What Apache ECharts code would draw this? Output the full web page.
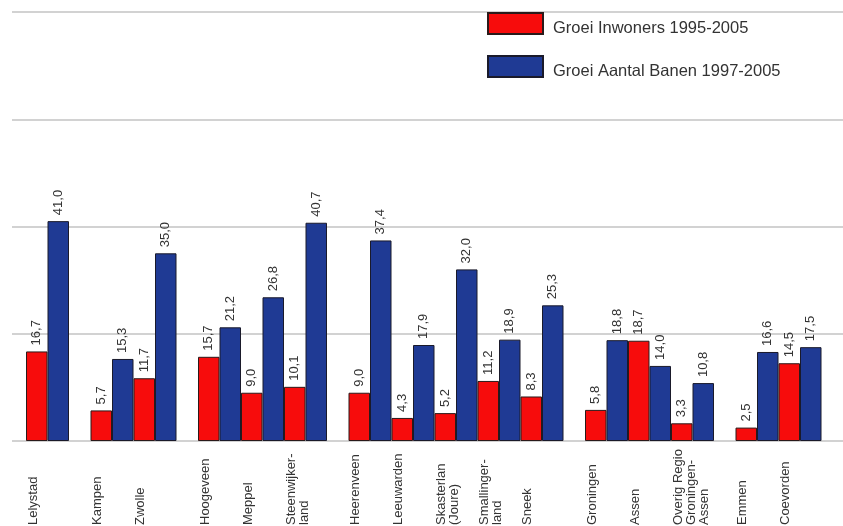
<!DOCTYPE html>
<html>
<head>
<meta charset="utf-8">
<script src="https://cdn.jsdelivr.net/npm/echarts@6/dist/echarts.min.js"></script>
<style>
  html, body { margin: 0; padding: 0; background: #fff; }
  #chart { width: 843px; height: 526px; }
</style>
</head>
<body>
<div id="chart"></div>
<script>
// cities, in the order of the chart (\n = line break in the axis label)
const cities = [
  'Lelystad',
  'Kampen', 'Zwolle',
  'Hoogeveen', 'Meppel', 'Steenwijker-\nland',
  'Heerenveen', 'Leeuwarden', 'Skasterlan\n(Joure)', 'Smallinger-\nland', 'Sneek',
  'Groningen', 'Assen', 'Overig Regio\nGroningen-\nAssen',
  'Emmen', 'Coevorden'
]
// how many cities sit together in each group (a gap between the groups)
const groupSizes = [1, 2, 3, 5, 3, 2]
const inwoners = [16.7, 5.7, 11.7, 15.7, 9.0, 10.1, 9.0, 4.3, 5.2, 11.2, 8.3, 5.8, 18.7, 3.3, 2.5, 14.5]
const banen = [41.0, 15.3, 35.0, 21.2, 26.8, 40.7, 37.4, 17.9, 32.0, 18.9, 25.3, 18.8, 14.0, 10.8, 16.6, 17.5]
const yTicks = [0, 20, 40, 60, 80]

const RED = '#f70c0c'
const BLUE = '#1f3a94'

// one slot per bar, plus an empty slot between groups
let slots = ['']
let redData = [null]
let blueData = [null]
let c = 0
groupSizes.forEach((n, g) => {
  if (g > 0) {
    slots.push('')
    redData.push(null)
    blueData.push(null)
  }
  for (let i = 0; i < n; i++) {
    slots.push(cities[c])
    redData.push(inwoners[c])
    blueData.push(null)
    slots.push(' ')
    redData.push(null)
    blueData.push(banen[c])
    c++
  }
})
slots.push('')
redData.push(null)
blueData.push(null)

const FONT = '"Liberation Sans", Arial, sans-serif'

const valueLabel = {
  show: true,
  position: 'top',
  rotate: 90,
  align: 'left',
  verticalAlign: 'middle',
  distance: 6,
  color: '#333',
  fontSize: 13,
  fontFamily: FONT,
  formatter: (p) => p.value.toFixed(1).replace('.', ',')
}

const myChart = echarts.init(document.getElementById('chart'))
myChart.setOption({
  animation: false,
  legend: {
    orient: 'vertical',
    left: 487,
    top: 12,
    padding: 0,
    itemWidth: 55,
    itemHeight: 21,
    itemGap: 18,
    icon: 'rect',
    formatter: (name) => '{t|' + name + '}',
    textStyle: {
      color: '#333',
      fontSize: 16.5,
      fontFamily: FONT,
      rich: {
        // push the text a bit lower than the middle of the box
        t: { fontSize: 16.5, fontFamily: FONT, color: '#333', padding: [10, 0, 0, 5] }
      }
    },
    data: ['Groei Inwoners 1995-2005', 'Groei Aantal Banen 1997-2005']
  },
  grid: [
    { left: 12, right: 0, top: 12, bottom: 85, outerBoundsMode: 'none' },
    { left: 4.5, right: 0, top: 12, bottom: 85, outerBoundsMode: 'none' }
  ],
  xAxis: [
    { type: 'value', gridIndex: 0, show: false },
    {
      type: 'category',
      gridIndex: 1,
      data: slots,
      boundaryGap: true,
      axisLine: { show: false },
      axisTick: { show: false },
      axisLabel: {
        interval: 0,
        rotate: 90,
        align: 'left',
        verticalAlign: 'top',
        margin: 84,
        padding: [-10, 0, 0, 0],
        lineHeight: 13,
        color: '#333',
        fontSize: 13,
        fontFamily: FONT
      }
    }
  ],
  yAxis: [
    {
      type: 'value',
      gridIndex: 0,
      min: yTicks[0],
      max: yTicks[yTicks.length - 1],
      interval: yTicks[1] - yTicks[0],
      axisLine: { show: false },
      axisTick: { show: false },
      axisLabel: { show: false },
      splitLine: { lineStyle: { color: '#d2d2d2', width: 2 } }
    },
    {
      type: 'value',
      gridIndex: 1,
      min: yTicks[0],
      max: yTicks[yTicks.length - 1],
      show: false,
      splitLine: { show: false }
    }
  ],
  series: [
    {
      name: 'Groei Inwoners 1995-2005',
      type: 'bar',
      xAxisIndex: 1,
      yAxisIndex: 1,
      barGap: '-100%',
      barCategoryGap: '0%',
      itemStyle: { color: RED, borderColor: '#2a1a1a', borderWidth: 1 },
      label: valueLabel,
      data: redData
    },
    {
      name: 'Groei Aantal Banen 1997-2005',
      type: 'bar',
      xAxisIndex: 1,
      yAxisIndex: 1,
      barGap: '-100%',
      barCategoryGap: '0%',
      itemStyle: { color: BLUE, borderColor: '#1a1a2a', borderWidth: 1 },
      label: valueLabel,
      data: blueData
    }
  ]
})
</script>
</body>
</html>
